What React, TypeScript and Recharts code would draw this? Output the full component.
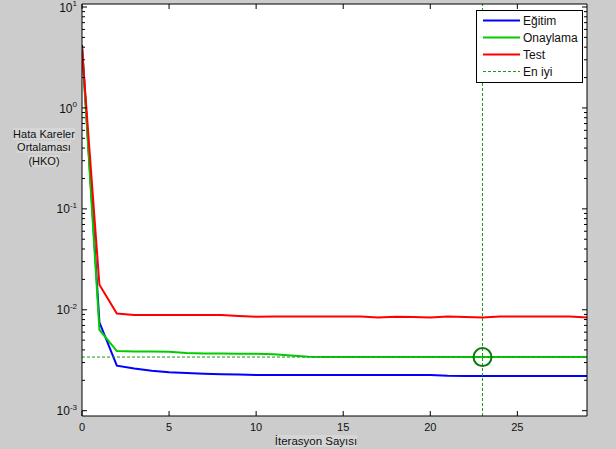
import React from 'react';
import { LineChart, Line, XAxis, YAxis, ReferenceLine, ReferenceDot, CartesianGrid } from 'recharts';

const epochs = [0, 1, 2, 3, 4, 5, 6, 7, 8, 9, 10, 11, 12, 13, 14, 15, 16, 17, 18, 19, 20, 21, 22, 23, 24, 25, 26, 27, 28, 29];
const egitim = [4.2, 0.0075, 0.00279, 0.00262, 0.00249, 0.0024, 0.00236, 0.00232, 0.0023, 0.00228, 0.00226, 0.00226, 0.00226, 0.00226, 0.00226, 0.00226, 0.00226, 0.00226, 0.00226, 0.00226, 0.00226, 0.00222, 0.00221, 0.00221, 0.00221, 0.00221, 0.00221, 0.00221, 0.00221, 0.00221];
const onaylama = [4.0, 0.00634, 0.0039, 0.00387, 0.00386, 0.00384, 0.00374, 0.00369, 0.00368, 0.00367, 0.00367, 0.00363, 0.00352, 0.00342, 0.00341, 0.00341, 0.00341, 0.00341, 0.00341, 0.00341, 0.00341, 0.00341, 0.00341, 0.0034, 0.00341, 0.00341, 0.00341, 0.00341, 0.00341, 0.00341];
const testSeries = [3.9, 0.0177, 0.0092, 0.0089, 0.0089, 0.0089, 0.0089, 0.0089, 0.0089, 0.0087, 0.00855, 0.0086, 0.0086, 0.0086, 0.0086, 0.0086, 0.0086, 0.0084, 0.00855, 0.0085, 0.0084, 0.0086, 0.0085, 0.0084, 0.0086, 0.0086, 0.0086, 0.0086, 0.0086, 0.0084];
const bestEpoch = 23;
const bestValue = 0.0034;
const xTicks = [0, 5, 10, 15, 20, 25];
const yMajorTicks = [0.001, 0.01, 0.1, 1, 10];
const yMinorMultipliers = [2, 3, 4, 5, 6, 7, 8, 9];
const yDomain: [number, number] = [0.000886, 10.71];
const xDomain: [number, number] = [0, 29];
const legendItems = [
  { label: 'Eğitim', color: '#0000FF', dash: '' },
  { label: 'Onaylama', color: '#00CC00', dash: '' },
  { label: 'Test', color: '#FF0000', dash: '' },
  { label: 'En iyi', color: '#1A9A1A', dash: '3 2' },
];

const yTicks: number[] = [];
yMajorTicks.forEach((m, i) => {
  yTicks.push(m);
  if (i < yMajorTicks.length - 1) {
    yMinorMultipliers.forEach((k) => yTicks.push(Number((k * m).toPrecision(3))));
  }
});

const data = epochs.map((e, i) => ({
  epoch: e,
  egitim: egitim[i],
  onaylama: onaylama[i],
  test: testSeries[i],
}));

const FONT = '"Liberation Sans", Arial, sans-serif';

const isMajor = (v: number) => {
  const l = Math.log10(v);
  return Math.abs(l - Math.round(l)) < 1e-6;
};

const LeftTick = (props: any) => {
  const { x, y, payload } = props;
  const v = payload.value;
  const major = isMajor(v);
  const e = Math.round(Math.log10(v));
  return (
    <g>
      <line x1={x} x2={x + (major ? 5 : 3)} y1={y} y2={y} stroke="#000" strokeWidth={1} />
      {major && (
        <text x={x - 5} y={y + 4.6} textAnchor="end" fontSize={12} fill="#111" fontFamily={FONT}>
          10
          <tspan dy={-5.5} fontSize={8}>{e}</tspan>
        </text>
      )}
    </g>
  );
};

const RightTick = (props: any) => {
  const { x, y, payload } = props;
  const major = isMajor(payload.value);
  return <line x1={x} x2={x - (major ? 5 : 3)} y1={y} y2={y} stroke="#000" strokeWidth={1} />;
};

const BottomTick = (props: any) => {
  const { x, y, payload } = props;
  return (
    <g>
      <line x1={x} x2={x} y1={y} y2={y - 5} stroke="#000" strokeWidth={1} />
      <text x={x} y={y + 14.5} textAnchor="middle" fontSize={11} fill="#111" fontFamily={FONT}>
        {payload.value}
      </text>
    </g>
  );
};

const TopTick = (props: any) => {
  const { x, y } = props;
  return <line x1={x} x2={x} y1={y} y2={y + 5} stroke="#000" strokeWidth={1} />;
};

const LegendBox = () => (
  <svg width={108} height={74} style={{ position: 'absolute', left: 476, top: 10 }}>
    <rect x={0.5} y={0.5} width={106} height={72} fill="#FFFFFF" stroke="#000" strokeWidth={1} />
    {legendItems.map((it, i) => {
      const ly = 10.5 + i * 17;
      return (
        <g key={it.label}>
          <line x1={7} x2={44} y1={ly} y2={ly} stroke={it.color} strokeWidth={it.dash ? 1 : 2} strokeDasharray={it.dash || undefined} />
          <text x={47} y={ly + 4.5} fontSize={12} fill="#111" fontFamily={FONT}>
            {it.label}
          </text>
        </g>
      );
    })}
  </svg>
);

export default function App() {
  return (
    <div style={{ position: 'fixed', left: 0, top: 0, width: 616, height: 449, background: '#CCCCCC', fontFamily: FONT, overflow: 'hidden' }}>
      <LineChart width={616} height={449} data={data} margin={{ top: 0, right: 0, bottom: 0, left: 0 }}>
        <CartesianGrid xAxisId="b" yAxisId="l" fill="#FFFFFF" horizontal={false} vertical={false} stroke="none" />
        <XAxis xAxisId="b" dataKey="epoch" type="number" domain={xDomain} ticks={xTicks} interval={0} height={33}
          tickSize={0} tickMargin={0} tickLine={false} axisLine={{ stroke: '#000' }} tick={<BottomTick />} allowDataOverflow />
        <XAxis xAxisId="t" orientation="top" dataKey="epoch" type="number" domain={xDomain} ticks={xTicks} interval={0} height={4}
          tickSize={0} tickMargin={0} tickLine={false} axisLine={{ stroke: '#000' }} tick={<TopTick />} allowDataOverflow />
        <YAxis yAxisId="l" type="number" scale="log" domain={yDomain} ticks={yTicks} interval={0} width={82}
          tickSize={0} tickMargin={0} tickLine={false} axisLine={{ stroke: '#000' }} tick={<LeftTick />} allowDataOverflow />
        <YAxis yAxisId="r" orientation="right" type="number" scale="log" domain={yDomain} ticks={yTicks} interval={0} width={29}
          tickSize={0} tickMargin={0} tickLine={false} axisLine={{ stroke: '#000' }} tick={<RightTick />} allowDataOverflow />
        <Line xAxisId="b" yAxisId="l" type="linear" dataKey="egitim" stroke="#0000FF" strokeWidth={2} dot={false} isAnimationActive={false} />
        <Line xAxisId="b" yAxisId="l" type="linear" dataKey="onaylama" stroke="#00CC00" strokeWidth={2} dot={false} isAnimationActive={false} />
        <Line xAxisId="b" yAxisId="l" type="linear" dataKey="test" stroke="#FF0000" strokeWidth={2} dot={false} isAnimationActive={false} />
        <ReferenceLine xAxisId="b" yAxisId="l" x={bestEpoch} stroke="#1A9A1A" strokeWidth={1} strokeDasharray="3 2" />
        <ReferenceLine xAxisId="b" yAxisId="l" y={bestValue} stroke="#1A9A1A" strokeWidth={1} strokeDasharray="3 2" />
        <ReferenceDot xAxisId="b" yAxisId="l" x={bestEpoch} y={bestValue} r={9} fill="none" stroke="#0A7A0A" strokeWidth={2} />
      </LineChart>
      <LegendBox />
      <div style={{ position: 'absolute', left: 0, width: 88, top: 128, textAlign: 'center', fontSize: 11, lineHeight: '13.3px', color: '#111' }}>
        <span style={{ background: '#D6D6D6' }}>Hata Kareler</span><br />
        <span style={{ background: '#D6D6D6' }}>Ortalaması</span><br />
        <span style={{ background: '#D6D6D6' }}>(HKO)</span>
      </div>
      <div style={{ position: 'absolute', left: 216, width: 200, top: 433, textAlign: 'center', fontSize: 11.5, lineHeight: '16px', color: '#111' }}>
        <span style={{ background: '#D6D6D6' }}>İterasyon Sayısı</span>
      </div>
    </div>
  );
}
